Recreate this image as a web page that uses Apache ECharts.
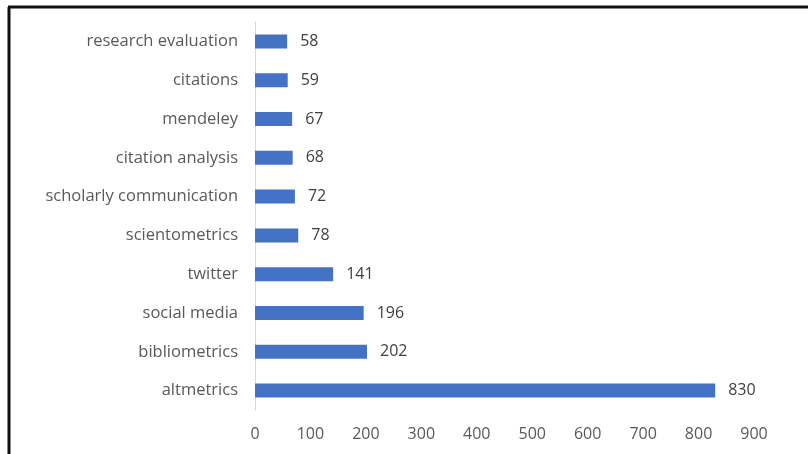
<!DOCTYPE html>
<html>
<head>
<meta charset="utf-8">
<script src="https://cdn.jsdelivr.net/npm/echarts@6/dist/echarts.min.js"></script>
<style>
  html, body { margin: 0; padding: 0; background: #fff; }
  #chart { width: 808px; height: 454px; }
</style>
</head>
<body>
<div id="chart"></div>
<script>
// Keyword frequencies, listed bottom to top
const keywords = [
  'altmetrics', 'bibliometrics', 'social media', 'twitter', 'scientometrics',
  'scholarly communication', 'citation analysis', 'mendeley', 'citations',
  'research evaluation'
];
const counts = [830, 202, 196, 141, 78, 72, 68, 67, 59, 58];
const axisTicks = [0, 100, 200, 300, 400, 500, 600, 700, 800, 900];

const chart = echarts.init(document.getElementById('chart'), null, { renderer: 'canvas' });
const font = '"Open Sans", "Noto Sans", sans-serif';

chart.setOption({
  animation: false,
  grid: { left: 255, right: 54, top: 22, bottom: 44, containLabel: false },
  graphic: [
    { type: 'line', shape: { x1: 9, y1: 7, x2: 9, y2: 454 }, style: { stroke: '#111', lineWidth: 3 } },
    { type: 'line', shape: { x1: 8, y1: 7, x2: 808, y2: 7 }, style: { stroke: '#111', lineWidth: 3 } }
  ],
  xAxis: {
    type: 'value',
    min: axisTicks[0],
    max: axisTicks[axisTicks.length - 1],
    interval: axisTicks[1] - axisTicks[0],
    splitLine: { show: false },
    axisLine: { show: false },
    axisTick: { show: false },
    axisLabel: { color: '#595959', fontSize: 16, fontFamily: font, margin: 16 }
  },
  yAxis: {
    type: 'category',
    data: keywords,
    axisLine: { show: true, lineStyle: { color: '#d9d9d9', width: 1 } },
    axisTick: { show: false },
    axisLabel: { color: '#595959', fontSize: 16.5, fontFamily: font, margin: 17 }
  },
  series: [{
    type: 'bar',
    data: counts,
    barWidth: 14,
    itemStyle: { color: '#4472C4' },
    label: {
      show: true,
      position: 'right',
      distance: 13,
      color: '#404040',
      fontSize: 16,
      fontFamily: font
    }
  }]
});
</script>
</body>
</html>
